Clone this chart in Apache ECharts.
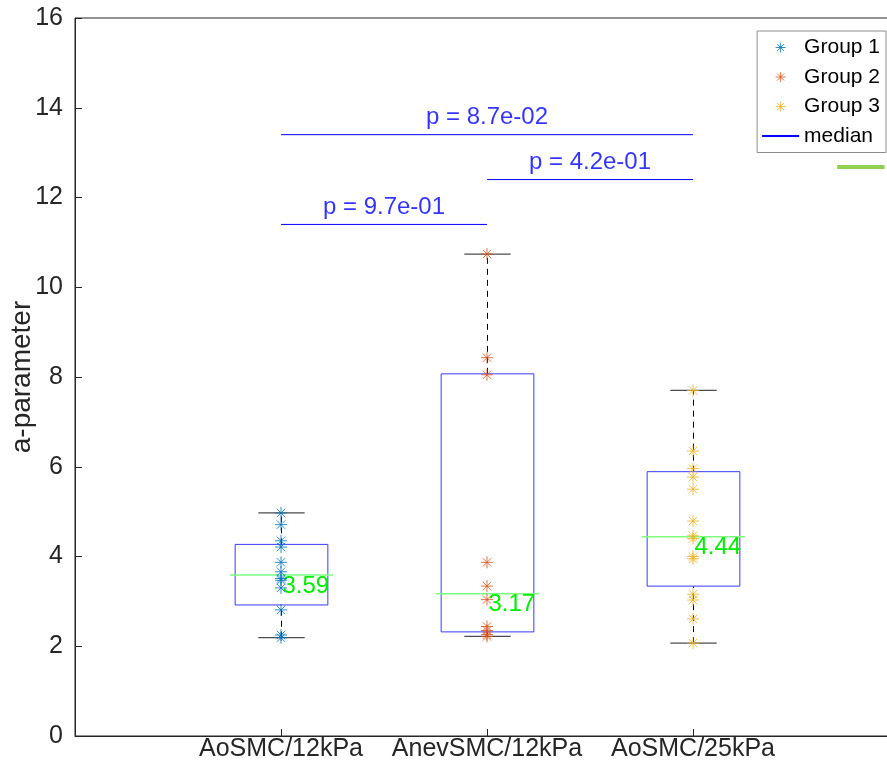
<!DOCTYPE html>
<html><head><meta charset="utf-8">
<script src="https://cdn.jsdelivr.net/npm/echarts@6/dist/echarts.min.js"></script>
<style>html,body{margin:0;padding:0;background:#fff;overflow:hidden;width:887px;height:778px}#c{width:900px;height:778px}</style>
</head><body><div id="c"></div>
<script>
const categories = ['AoSMC/12kPa', 'AnevSMC/12kPa', 'AoSMC/25kPa'];
const yTicks = [0, 2, 4, 6, 8, 10, 12, 14, 16];
const group1 = [4.97, 4.71, 4.35, 4.21, 3.87, 3.66, 3.51, 3.47, 3.30, 2.81, 2.25, 2.19];
const group2 = [10.74, 8.43, 8.05, 3.87, 3.34, 3.04, 2.44, 2.35, 2.26, 2.22];
const group3 = [7.70, 6.35, 5.96, 5.77, 5.50, 4.79, 4.46, 4.40, 4.00, 3.95, 3.16, 3.03, 2.61, 2.07];
// [min, Q1, median, Q3, max]
const boxStats = [
  [2.19, 2.92, 3.59, 4.27, 4.97],
  [2.22, 2.32, 3.17, 8.07, 10.74],
  [2.07, 3.34, 4.44, 5.89, 7.70]
];
const medianLabels = ['3.59', '3.17', '4.44'];
// comparisons: from, to, height, label
const pFrom = [1, 2, 1];
const pTo = [2, 3, 3];
const pHeight = [11.4, 12.4, 13.4];
const pLabels = ['p = 9.7e-01', 'p = 4.2e-01', 'p = 8.7e-02'];
const strayLine = [[3.70, 12.68], [3.93, 12.68]];

const colors = ['#0072BD', '#D95319', '#EDB120'];
const FONT = 'Liberation Sans';
const star = 'path://M0,-10L0,10M-10,0L10,0M-7,-7L7,7M-7,7L7,-7';

function pts(arr, x) { return arr.map(v => [x, v]); }

const boxData = boxStats.map((s, i) => [i + 1].concat(s).concat([i]));

const bracketData = [];
pFrom.forEach((f, i) => {
  if (i > 0) bracketData.push('-');
  bracketData.push([f, pHeight[i]]);
  bracketData.push([pTo[i], pHeight[i]]);
});
const pTextData = pFrom.map((f, i) => ({ value: [(f + pTo[i]) / 2, pHeight[i]], name: pLabels[i] }));

function renderBox(params, api) {
  const x = api.value(0);
  const mn = api.value(1), q1 = api.value(2), md = api.value(3), q3 = api.value(4), mx = api.value(5);
  const idx = api.value(6);
  const cx = Math.round(api.coord([x, 0])[0]) + 0.5;
  const yMin = api.coord([x, mn])[1], yQ1 = api.coord([x, q1])[1], yMd = api.coord([x, md])[1];
  const yQ3 = api.coord([x, q3])[1], yMx = api.coord([x, mx])[1];
  const boxW = api.size([0.45, 0])[0];
  const capW = api.size([0.225, 0])[0];
  const medW = api.size([0.50, 0])[0];
  const dash = { stroke: '#000', lineWidth: 1, lineDash: [6, 5] };
  const cap = { stroke: '#4d4d4d', lineWidth: 1.2 };
  return {
    type: 'group',
    children: [
      { type: 'line', shape: { x1: cx, y1: yQ3, x2: cx, y2: yMx }, style: dash },
      { type: 'line', shape: { x1: cx, y1: yMin, x2: cx, y2: yQ1 }, style: dash },
      { type: 'line', shape: { x1: cx - capW / 2, y1: yMx, x2: cx + capW / 2, y2: yMx }, style: cap },
      { type: 'line', shape: { x1: cx - capW / 2, y1: yMin, x2: cx + capW / 2, y2: yMin }, style: cap },
      { type: 'rect', shape: { x: cx - boxW / 2, y: yQ3, width: boxW, height: yQ1 - yQ3 },
        style: { fill: 'none', stroke: '#3a3aff', lineWidth: 1 } },
      { type: 'line', shape: { x1: cx - medW / 2, y1: yMd, x2: cx + medW / 2, y2: yMd },
        style: { stroke: '#7dff7d', lineWidth: 1.5 } },
      { type: 'text', x: cx + 1, y: yMd + 11, z2: 10,
        style: { text: medianLabels[idx], fill: '#00ee00', font: '24px "' + FONT + '"',
                 align: 'left', verticalAlign: 'middle' } }
    ]
  };
}

function scatterSeries(name, data, x, color) {
  return {
    name: name, type: 'scatter', data: pts(data, x), symbol: star, symbolSize: 12, z: 5,
    itemStyle: { color: color, borderColor: color, borderWidth: 1 }
  };
}

const chart = echarts.init(document.getElementById('c'), null, { renderer: 'canvas' });
chart.setOption({
  animation: false,
  textStyle: { fontFamily: FONT },
  grid: { left: 75, top: 18, right: 1, bottom: 42, show: true, borderColor: '#262626', borderWidth: 1,
          containLabel: false, outerBoundsMode: 'none' },
  xAxis: {
    type: 'value', min: 0, max: 4, interval: 1,
    splitLine: { show: false },
    axisLine: { lineStyle: { color: '#262626' } },
    axisTick: { inside: true, length: 7, lineStyle: { color: '#262626' } },
    axisLabel: { fontSize: 25, color: '#262626', margin: 1, fontFamily: FONT,
      formatter: v => (v >= 1 && v <= 3 ? categories[v - 1] : '') }
  },
  yAxis: {
    type: 'value', min: yTicks[0], max: yTicks[yTicks.length - 1], interval: 2,
    name: 'a-parameter', nameLocation: 'middle', nameGap: 39, nameMoveOverlap: false,
    nameTextStyle: { fontSize: 28, color: '#262626', fontFamily: FONT },
    splitLine: { show: false },
    axisLine: { show: true, onZero: false, lineStyle: { color: '#262626' } },
    axisTick: { show: true, inside: true, length: 7, lineStyle: { color: '#262626' } },
    axisLabel: { fontSize: 25, color: '#262626', margin: 12, fontFamily: FONT }
  },
  legend: {
    orient: 'vertical', right: 14, top: 31,
    data: [
      { name: 'Group 1', icon: star, itemStyle: { color: colors[0], borderColor: colors[0], borderWidth: 1 } },
      { name: 'Group 2', icon: star, itemStyle: { color: colors[1], borderColor: colors[1], borderWidth: 1 } },
      { name: 'Group 3', icon: star, itemStyle: { color: colors[2], borderColor: colors[2], borderWidth: 1 } },
      { name: 'median', itemStyle: { opacity: 0 } }
    ],
    itemWidth: 37, itemHeight: 10, itemGap: 8.5,
    padding: [6, 6, 6, 4],
    borderColor: '#8c8c8c', borderWidth: 1, backgroundColor: '#fff',
    textStyle: { fontSize: 21, color: '#000', fontFamily: FONT }
  },
  series: [
    {
      name: 'boxes', type: 'custom', renderItem: renderBox, data: boxData, z: 3,
      encode: { x: 0, y: [1, 2, 3, 4, 5] }
    },
    scatterSeries('Group 1', group1, 1, colors[0]),
    scatterSeries('Group 2', group2, 2, colors[1]),
    scatterSeries('Group 3', group3, 3, colors[2]),
    {
      name: 'median', type: 'line', data: bracketData, symbol: 'none', connectNulls: false,
      lineStyle: { color: '#0000ff', width: 1 }, itemStyle: { color: '#0000ff' }
    },
    {
      name: 'pvals', type: 'scatter', data: pTextData, symbolSize: 0,
      label: { show: true, position: 'top', distance: 5, formatter: p => p.name,
               fontSize: 24, color: '#0000ff', fontFamily: FONT }
    },
    {
      name: 'stray', type: 'line', data: strayLine, symbol: 'none',
      lineStyle: { color: '#92d050', width: 4 }
    }
  ]
});
</script></body></html>
